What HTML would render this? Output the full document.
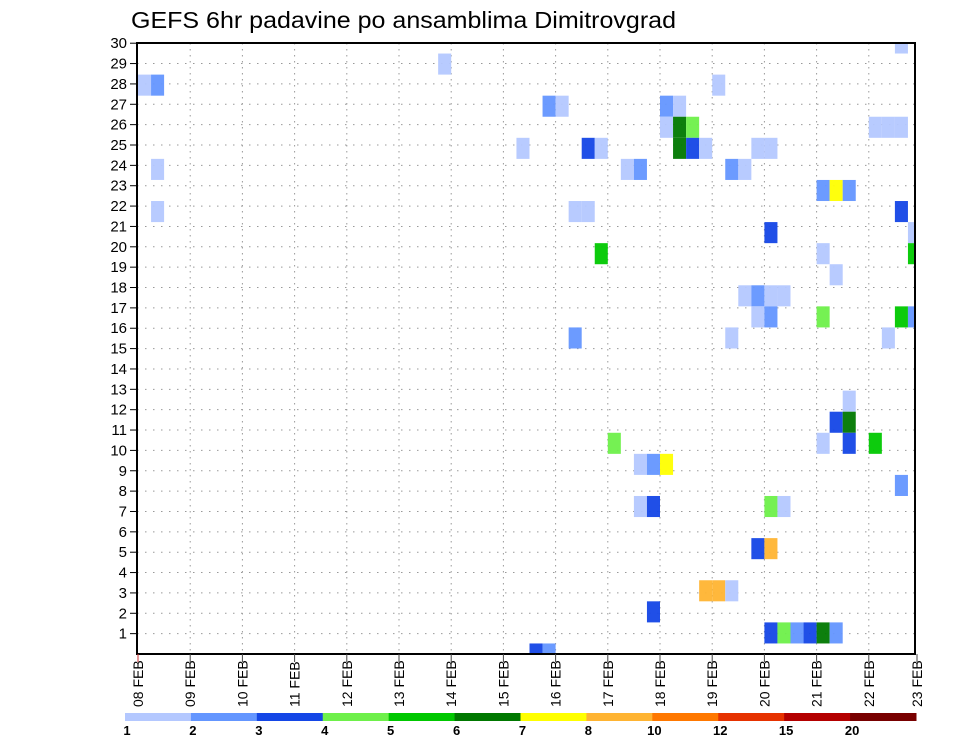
<!DOCTYPE html>
<html><head><meta charset="utf-8"><style>
html,body{margin:0;padding:0;background:#fff;}
svg{display:block;font-family:"Liberation Sans",sans-serif;}
</style></head><body>
<svg id="chart" width="960" height="742" viewBox="0 0 960 742" xmlns="http://www.w3.org/2000/svg">
<text x="131" y="28" font-size="23" textLength="545" lengthAdjust="spacingAndGlyphs" fill="#000">GEFS 6hr padavine po ansamblima Dimitrovgrad</text>
<g id="grid"></g>
<g id="cells"></g>
<g id="axes"></g>
<g id="legend"></g>
</svg>
<script>
// day tick labels
const dayLabels = ["08","09","10","11","12","13","14","15","16","17","18","19","20","21","22","23"];
const yTicks = [1,2,3,4,5,6,7,8,9,10,11,12,13,14,15,16,17,18,19,20,21,22,23,24,25,26,27,28,29,30];
// colour classes and legend
const levelLabels = ["1","2","3","4","5","6","7","8","10","12","15","20"];
const levelColors = ["#b4c8ff","#6496ff","#1446e6","#6ef04a","#00c800","#007800","#ffff00","#ffb432","#ff7800","#e63200","#b40000","#780000"];
// cells: time step (6h from 08 FEB 00Z), member row, colour class index
const cellStep   = [58,23,0,1,44,31,32,40,41,40,41,42,56,57,58,29,34,35,41,42,43,47,48,1,37,38,45,46,52,53,54,1,33,34,58,48,59,35,59,52,53,46,47,48,49,47,48,52,58,59,33,45,57,54,53,54,36,52,54,56,38,39,40,58,38,39,48,49,47,48,43,44,45,39,48,49,50,51,52,53,30,31];
const cellMember = [29,28,27,27,27,26,26,26,26,25,25,25,25,25,25,24,24,24,24,24,24,24,24,23,23,23,23,23,22,22,22,21,21,21,21,20,20,19,19,19,18,17,17,17,17,16,16,16,16,16,15,15,15,12,11,11,10,10,10,10,9,9,9,8,7,7,7,7,5,5,3,3,3,2,1,1,1,1,1,1,0,0];
const cellClass  = [0,0,0,1,0,1,0,1,0,0,5,3,0,0,0,0,2,0,5,2,0,0,0,0,0,1,1,0,1,6,1,0,0,0,2,2,0,4,4,0,0,0,1,0,0,0,1,3,4,1,1,0,0,0,2,5,3,0,2,4,0,1,6,1,0,2,3,0,2,7,7,7,0,2,2,3,1,2,5,1,2,1];

const NS="http://www.w3.org/2000/svg";
const L=137,R=915,T=43,B=654;
const dayW=52.2, x0=138;
function xDay(d){return x0+d*dayW;}
function xStep(k){return x0+k*dayW/4;}
const cellH=(B-T)/29;
function yMember(m){return B-m*cellH;}
const tickSp=20.36;
function yTick(v){return B-v*tickSp;}
function mk(tag,attrs,parent){const e=document.createElementNS(NS,tag);for(const k in attrs)e.setAttribute(k,attrs[k]);parent.appendChild(e);return e;}

const grid=document.getElementById('grid');
yTicks.forEach(v=>{ if(v===30) return;
  const ln=mk('line',{x1:L,x2:R,y1:yTick(v),y2:yTick(v),stroke:'#999','stroke-width':1,'stroke-dasharray':'1.5 6.5'},grid);
  
  
});
dayLabels.forEach((d,i)=>{ const x=xDay(i); if(x<=L+1||x>=R) return;
  const ln=mk('line',{x1:x,x2:x,y1:T,y2:B,stroke:'#999','stroke-width':1,'stroke-dasharray':'1.5 4.5'},grid);
  
  
});

const cells=document.getElementById('cells');
const clip=mk('clipPath',{id:'pc'},cells); mk('rect',{x:L,y:T,width:R-L,height:B-T},clip);
const cg=mk('g',{'clip-path':'url(#pc)'},cells);
for(let i=0;i<cellStep.length;i++){
  const x=xStep(cellStep[i]), w=dayW/4, yc=yMember(cellMember[i]);
  const r=mk('rect',{x:x,y:yc-cellH/2,width:w,height:cellH,fill:levelColors[cellClass[i]],'fill-opacity':0.95},cg);
  
  
}

const ax=document.getElementById('axes');
const fr=mk('rect',{x:L,y:T,width:R-L,height:B-T,fill:'none',stroke:'#000','stroke-width':2},ax);


yTicks.forEach(v=>{
  const y=yTick(v);
  mk('line',{x1:L-7,x2:L,y1:y,y2:y,stroke:'#000','stroke-width':1},ax);
  const t=mk('text',{x:L-10,y:y+5,'font-size':15,'text-anchor':'end',fill:'#000'},ax);
  t.textContent=v;
  
  
});
dayLabels.forEach((d,i)=>{
  const x=Math.min(xDay(i),917);
  mk('line',{x1:x,x2:x,y1:B,y2:B+8,stroke:i===0?'#c33':'#444','stroke-width':1},ax);
  const t=mk('text',{x:0,y:0,'font-size':14,transform:`translate(${x+5},707) rotate(-90)`,fill:'#000'},ax);
  t.textContent=d+' FEB';
  
  
});

const lg=document.getElementById('legend');
const segW=(916-125)/levelColors.length;
levelColors.forEach((c,i)=>{
  const r=mk('rect',{x:125+i*segW,y:713,width:segW+0.5,height:8,fill:c},lg);
  
  
  const t=mk('text',{x:127+i*segW,y:735,'font-size':13,'font-weight':'bold','text-anchor':'middle',fill:'#000'},lg);
  t.textContent=levelLabels[i];
  
  
});
</script>
</body></html>
